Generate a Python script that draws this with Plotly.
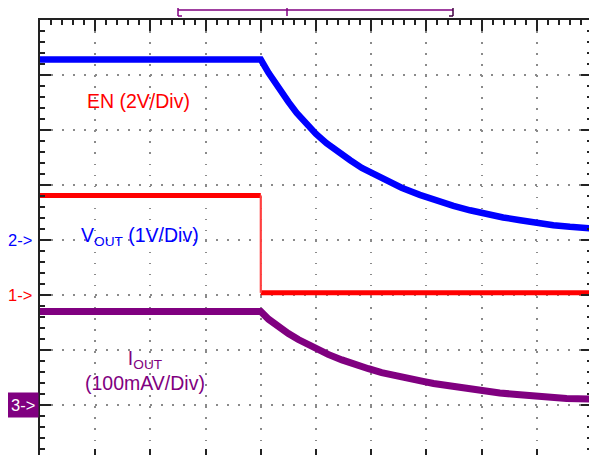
import plotly.graph_objects as go

# Oscilloscope capture, values in screen divisions (10 horizontal x 8 vertical)
# Channel 2 (blue) trace
blue_t = [0.0, 4.00, 4.14, 4.32, 4.50, 4.65, 4.80, 5.00, 5.19, 5.40, 5.62, 5.83, 6.07,
          6.31, 6.55, 6.88, 7.13, 7.49, 7.79, 8.09, 8.39, 8.70, 9.00, 9.30, 9.60, 10.0]
blue_v = [7.28, 7.28, 7.04, 6.76, 6.51, 6.31, 6.13, 5.93, 5.76, 5.60, 5.45, 5.31, 5.18,
          5.06, 4.95, 4.82, 4.73, 4.62, 4.54, 4.47, 4.41, 4.36, 4.31, 4.27, 4.24, 4.21]

# Channel 1 (red) trace
red_t = [0.0, 4.0, 4.0, 10.0]
red_v = [4.81, 4.81, 3.04, 3.04]

# Channel 3 (purple) trace
purple_t = [0.0, 4.00, 4.14, 4.32, 4.50, 4.68, 4.86, 5.04, 5.22, 5.47, 5.71, 5.95, 6.19,
            6.43, 6.73, 6.94, 7.13, 7.43, 7.73, 8.03, 8.33, 8.64, 8.94, 9.24, 9.54, 10.0]
purple_v = [2.70, 2.70, 2.56, 2.42, 2.30, 2.19, 2.09, 2.00, 1.92, 1.82, 1.73, 1.66, 1.59,
            1.53, 1.47, 1.43, 1.39, 1.34, 1.30, 1.26, 1.22, 1.19, 1.16, 1.14, 1.12, 1.11]

# channel ground reference levels (divisions)
ch_names = ["1->", "2->", "3->"]
ch_levels = [3.0, 4.0, 1.0]

BLUE = "#0000FF"
RED = "#FF0000"
PURPLE = "#800080"
FONT = "Liberation Sans, Arial, sans-serif"

fig = go.Figure()
fig.add_trace(go.Scatter(x=blue_t, y=blue_v, mode="lines",
                         line=dict(color=BLUE, width=6.5), hoverinfo="skip"))
fig.add_trace(go.Scatter(x=red_t[:2] + [None] + red_t[2:], y=red_v[:2] + [None] + red_v[2:],
                         mode="lines", line=dict(color=RED, width=5), hoverinfo="skip"))
fig.add_trace(go.Scatter(x=red_t[1:3], y=red_v[1:3], mode="lines",
                         line=dict(color="#FF4040", width=2.2), hoverinfo="skip"))
fig.add_trace(go.Scatter(x=purple_t, y=purple_v, mode="lines",
                         line=dict(color=PURPLE, width=7), hoverinfo="skip"))

axis_common = dict(
    showgrid=True, gridcolor="#8a8a8a", gridwidth=1.5,
    zeroline=False, showline=True, linecolor="#222222", linewidth=2, mirror="ticks",
    ticks="inside", ticklen=11, tickwidth=1.5, tickcolor="#222222",
    showticklabels=False, dtick=1, tick0=0,
    minor=dict(ticks="inside", ticklen=5, tickwidth=1.5, tickcolor="#222222",
               dtick=0.2, showgrid=False),
    fixedrange=True,
)
fig.update_xaxes(range=[0, 10], griddash="1.5px,9.54px", **axis_common)
fig.update_yaxes(range=[0, 8], griddash="1.5px,9.5px", **axis_common)

# text labels
fig.add_annotation(x=1.78, y=6.52, text="EN (2V/Div)", showarrow=False,
                   font=dict(family=FONT, size=19.5, color=RED))
fig.add_annotation(x=1.81, y=4.07, text="V<sub>OUT</sub> (1V/Div)", showarrow=False,
                   font=dict(family=FONT, size=19.5, color=BLUE))
fig.add_annotation(x=1.90, y=1.62, text="I<sub>OUT</sub><br>(100mAV/Div)", showarrow=False,
                   font=dict(family=FONT, size=19.5, color=PURPLE))

# channel markers
marker_colors = [RED, BLUE, "white"]
for name, lvl, col in zip(ch_names, ch_levels, marker_colors):
    if name == "3->":
        fig.add_annotation(xref="paper", x=-0.001, xanchor="right", y=lvl, text=name,
                           showarrow=False, bgcolor=PURPLE, borderpad=3,
                           font=dict(family=FONT, size=16.5, color=col))
    else:
        fig.add_annotation(xref="paper", x=-0.01, xanchor="right", y=lvl, text=name,
                           showarrow=False, font=dict(family=FONT, size=16.5, color=col))

# page offset of the figure (body margin) and plot-area geometry, in pixels
OFF = 8
L, T, W, H = 40, 20, 552, 440


def px2paper_x(px):
    return (px - L) / W


def px2paper_y(py):
    return (T + H - py) / H


yl = px2paper_y(10)
yt = px2paper_y(4)
yb = px2paper_y(16)
xl, xr, xtr = px2paper_x(178), px2paper_x(453), px2paper_x(287)
bracket = [
    (xl, yl, xr, yl, PURPLE),
    (xl, yt, xl, yb, PURPLE),
    (xl, yt, px2paper_x(182), yt, PURPLE),
    (xl, yb, px2paper_x(182), yb, PURPLE),
    (xr, yt, xr, yb, "#400040"),
    (xr, yt, px2paper_x(449), yt, "#400040"),
    (xr, yb, px2paper_x(449), yb, "#400040"),
    (xtr, yt, xtr, yb, PURPLE),
    (px2paper_x(283.5), yt, px2paper_x(290.5), yt, PURPLE),
]
for x0, y0, x1, y1, c in bracket:
    fig.add_shape(type="line", xref="paper", yref="paper", x0=x0, y0=y0, x1=x1, y1=y1,
                  line=dict(color=c, width=1.5))

fig.update_layout(
    width=597, height=455,
    margin=dict(l=L - OFF, r=597 - (L - OFF) - W, t=T - OFF, b=455 - (T - OFF) - H),
    paper_bgcolor="white", plot_bgcolor="white",
    showlegend=False,
)

fig.write_html("out.html")
